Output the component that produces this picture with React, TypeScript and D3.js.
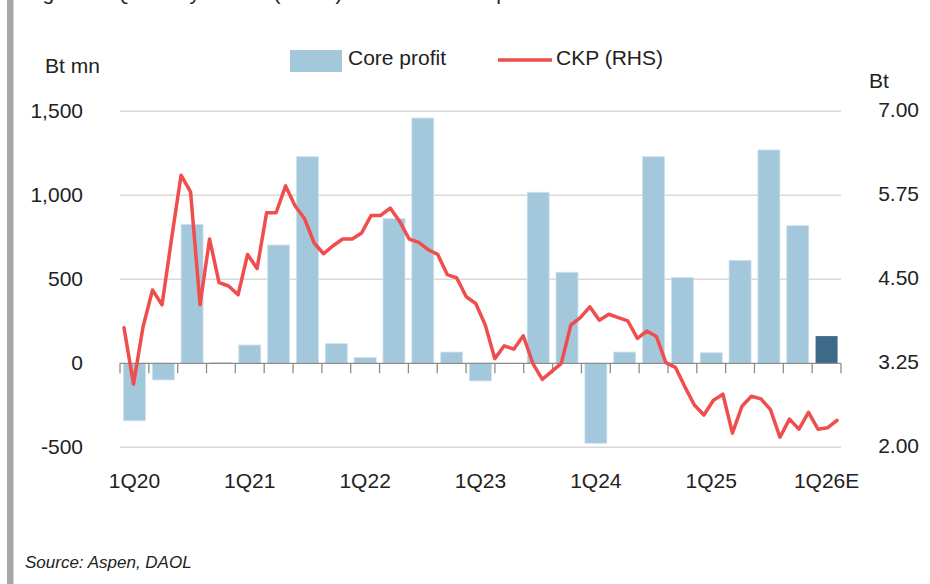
import React from "react";
import * as d3 from "d3";

const quarters = [
  "1Q20","2Q20","3Q20","4Q20",
  "1Q21","2Q21","3Q21","4Q21",
  "1Q22","2Q22","3Q22","4Q22",
  "1Q23","2Q23","3Q23","4Q23",
  "1Q24","2Q24","3Q24","4Q24",
  "1Q25","2Q25","3Q25","4Q25",
  "1Q26E",
];
const coreProfit = [
  -342, -99, 827, 5,
  109, 704, 1230, 117,
  34, 861, 1460, 67,
  -105, 0, 1018, 542,
  -476, 67, 1230, 510,
  63, 613, 1270, 819,
  162,
];
const forecastLabel = "1Q26E";
const xTickLabels = ["1Q20","1Q21","1Q22","1Q23","1Q24","1Q25","1Q26E"];
const ckpPrice = [
  3.78, 2.94, 3.79, 4.34, 4.12, 5.10, 6.05, 5.80, 4.12, 5.10, 4.45, 4.40,
  4.27, 4.87, 4.66, 5.49, 5.49, 5.89, 5.59, 5.40, 5.04, 4.88, 5.00, 5.10,
  5.10, 5.19, 5.45, 5.45, 5.56, 5.36, 5.10, 5.05, 4.94, 4.87, 4.57, 4.52,
  4.24, 4.14, 3.82, 3.32, 3.51, 3.46, 3.66, 3.25, 3.01, 3.13, 3.25, 3.82,
  3.93, 4.09, 3.89, 3.98, 3.93, 3.88, 3.62, 3.73, 3.65, 3.26, 3.19, 2.90,
  2.63, 2.48, 2.70, 2.79, 2.21, 2.61, 2.76, 2.72, 2.56, 2.15, 2.42, 2.27,
  2.52, 2.27, 2.29, 2.40,
];
const leftTicks = [-500, 0, 500, 1000, 1500];
const rightTicks = [2.0, 3.25, 4.5, 5.75, 7.0];
const seriesNames = ["Core profit", "CKP (RHS)"];
const titleText = "Figure 4: Quarterly results (Bt mn) and CKP share price";
const sourceText = "Source: Aspen, DAOL";

const W = 930;
const H = 584;
const PLOT = { left: 120, right: 841, top: 111.3, bottom: 447.3 };
const FONT = "'Liberation Sans', Arial, Helvetica, sans-serif";
const TXT = "#222";
const BAR = "#a3c8dc";
const BAR_DARK = "#3d6a89";
const RED = "#f04d4d";

export default function App() {
  const xStep = d3.scaleBand<string>().domain(quarters).range([PLOT.left, PLOT.right]);
  const yL = d3.scaleLinear().domain([-500, 1500]).range([PLOT.bottom, PLOT.top]);
  const yR = d3.scaleLinear().domain([2, 7]).range([PLOT.bottom, PLOT.top]);
  const xLine = d3.scaleLinear().domain([0, ckpPrice.length - 1]).range([PLOT.left + 4, PLOT.right - 4]);
  const line = d3.line<number>().x((_, i) => xLine(i)).y((d) => yR(d));
  const y0 = yL(0);
  const fmt = (v: number) => d3.format(",")(v).replace("\u2212", "-");
  const fmtR = d3.format(".2f");
  const boundaries = d3.range(quarters.length + 1).map((i) => PLOT.left + i * xStep.step());
  const barW = 22;

  return (
    <svg width={W} height={H} style={{ position: "absolute", left: 0, top: 0, background: "#fff" }} fontFamily={FONT}>
      <rect x={0} y={0} width={W} height={H} fill="#fff" />
      <rect x={7} y={0} width={6.5} height={H} fill="#a6a6a6" />
      <text x={25} y={-0.5} fontSize={21} fill={TXT}>{titleText}</text>

      {/* legend */}
      <rect x={290} y={50} width={52} height={22} fill={BAR} />
      <text x={348} y={65} fontSize={21} fill={TXT}>{seriesNames[0]}</text>
      <line x1={498} x2={552} y1={60} y2={60} stroke={RED} strokeWidth={3.5} />
      <text x={556} y={65} fontSize={21} fill={TXT}>{seriesNames[1]}</text>

      {/* unit labels */}
      <text x={45} y={73} fontSize={21} fill={TXT}>Bt mn</text>
      <text x={869} y={88} fontSize={21} fill={TXT}>Bt</text>

      {/* gridlines */}
      {leftTicks.filter((t) => t !== 0).map((t) => (
        <line key={t} x1={PLOT.left} x2={PLOT.right} y1={yL(t)} y2={yL(t)} stroke="#d9d9d9" strokeWidth={1.5} />
      ))}

      {/* left axis labels */}
      {leftTicks.map((t) => (
        <text key={t} x={83} y={yL(t) - 1} dy="0.35em" textAnchor="end" fontSize={21} fill={TXT}>{fmt(t)}</text>
      ))}
      {/* right axis labels */}
      {rightTicks.map((t) => (
        <text key={t} x={919} y={yR(t) - 1.5} dy="0.35em" textAnchor="end" fontSize={21} fill={TXT}>{fmtR(t)}</text>
      ))}

      {/* bars */}
      {quarters.map((q, i) => {
        const v = coreProfit[i];
        const bx = xStep(q)! + (xStep.step() - barW) / 2;
        return (
          <rect key={q} x={bx} width={barW} y={Math.min(yL(v), y0)} height={Math.abs(yL(v) - y0)}
            fill={q === forecastLabel ? BAR_DARK : BAR} stroke={q === forecastLabel ? "none" : "#cfe3ee"} strokeWidth={0.8} />
        );
      })}

      {/* zero axis */}
      <line x1={PLOT.left} x2={PLOT.right} y1={y0} y2={y0} stroke="#8c8c8c" strokeWidth={1.3} />
      {boundaries.map((bx, i) => (
        <line key={i} x1={bx} x2={bx} y1={y0} y2={y0 + 10} stroke="#8c8c8c" strokeWidth={1.3} />
      ))}

      {/* x labels */}
      {xTickLabels.map((q) => (
        <text key={q} x={xStep(q)! + xStep.step() / 2} y={488} textAnchor="middle" fontSize={21} fill={TXT}>{q}</text>
      ))}

      {/* price line */}
      <path d={line(ckpPrice) || ""} fill="none" stroke={RED} strokeWidth={3.5} strokeLinejoin="round" strokeLinecap="round" />

      <text x={25} y={568} fontSize={17} fontStyle="italic" fill={TXT}>{sourceText}</text>
    </svg>
  );
}
